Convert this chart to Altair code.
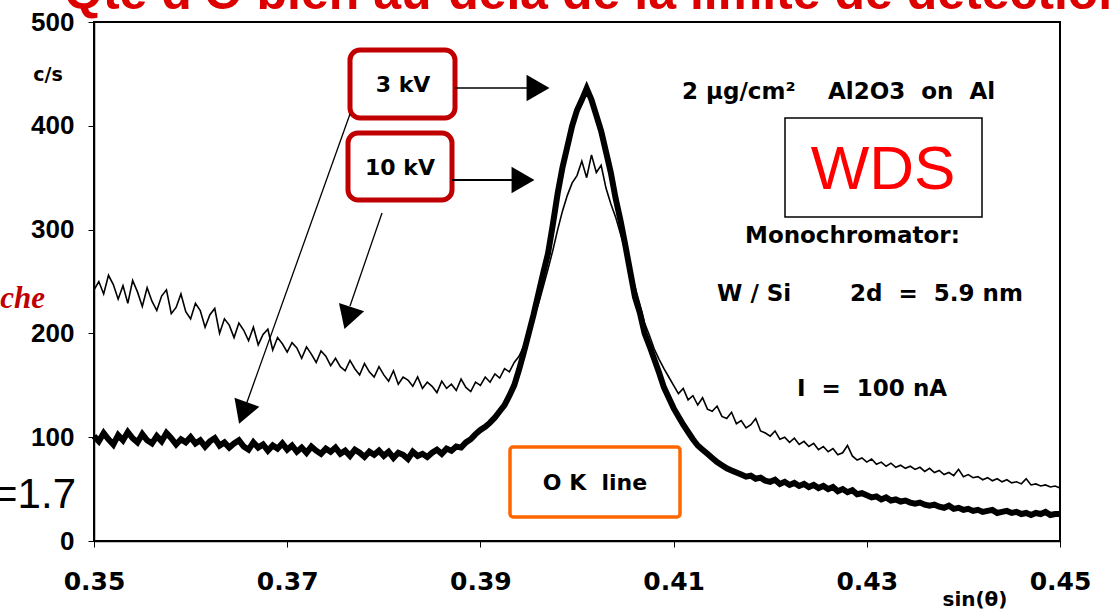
import altair as alt
import pandas as pd

# x positions: sin(theta) from 0.350 to 0.450, step 0.0005 (201 points)
x_start = 0.35
x_step = 0.0005

counts_3kV = [
    101, 96, 104, 98, 93, 102, 97, 105, 99, 95,
    103, 97, 94, 101, 96, 104, 99, 93, 98, 95,
    100, 94, 97, 91, 96, 99, 92, 95, 90, 94,
    97, 91, 88, 95, 90, 93, 87, 92, 89, 94,
    88, 92, 86, 90, 85, 91, 87, 84, 89, 86,
    90, 84, 87, 82, 88, 85, 81, 86, 83, 87,
    82, 86, 80, 85, 83, 79, 86, 82, 84, 81,
    85, 88, 84, 89, 87, 91, 90, 95, 98, 103,
    107, 110, 114, 119, 125, 131, 140, 150, 165, 182,
    200, 218, 238, 258, 277, 305, 335, 360, 380, 400,
    415, 425, 436, 425, 410, 395, 375, 355, 330, 309,
    285, 260, 235, 220, 200, 188, 175, 162, 148, 138,
    128, 120, 112, 105, 98, 92, 88, 84, 80, 76,
    73, 70, 68, 66, 64, 62, 63, 60, 61, 58,
    57, 59, 55, 57, 54, 56, 53, 55, 52, 54,
    51, 53, 50, 52, 48, 50, 47, 49, 45, 46,
    44, 42, 43, 40, 42, 39, 40, 38, 39, 37,
    36, 37, 35, 34, 35, 33, 32, 34, 31, 32,
    30, 31, 29, 30, 28, 29, 30, 27, 28, 29,
    27, 28, 26, 27, 25, 27, 26, 28, 25, 26,
    26,
]

counts_10kV = [
    242, 250, 238, 256, 247, 233, 246, 229, 251, 240,
    226, 244, 231, 222, 236, 242, 219, 225, 238, 221,
    214, 229, 222, 206, 218, 224, 200, 214, 208, 196,
    210, 203, 193, 206, 189, 199, 204, 184, 196, 190,
    182, 191, 186, 176, 187, 180, 172, 183, 178, 169,
    176, 168, 164, 174, 166, 160, 171, 163, 158, 168,
    160, 154, 164, 151, 158, 155, 149, 158, 147, 153,
    149, 143, 154, 147, 151, 145, 156, 148, 144, 153,
    150, 158, 153, 161, 157, 166, 163, 172, 178, 188,
    200, 215, 228, 245, 262, 280, 300, 318, 333, 345,
    352, 366, 350, 372, 355, 362, 340, 325, 312, 296,
    280, 262, 245, 228, 210, 198, 185, 175, 166, 158,
    150, 142, 147, 136, 140, 131, 138, 127, 125, 130,
    120, 118, 124, 113, 116, 109, 112, 118, 106, 104,
    101, 106, 98, 100, 95, 99, 93, 96, 91, 94,
    88, 91, 86, 89, 83, 85, 92, 82, 78, 80,
    76, 79, 74, 76, 72, 75, 71, 73, 70, 72,
    69, 71, 67, 70, 66, 68, 64, 66, 63, 69,
    62, 64, 61, 62, 59, 61, 58, 60, 57, 59,
    56, 57, 55, 60, 54, 55, 53, 54, 52, 53,
    51,
]

x_ticks = [0.35, 0.37, 0.39, 0.41, 0.43, 0.45]
y_ticks = [0, 100, 200, 300, 400, 500]

xs = [round(x_start + i * x_step, 4) for i in range(len(counts_3kV))]
df3 = pd.DataFrame({"sin": xs, "cps": counts_3kV})
df10 = pd.DataFrame({"sin": xs, "cps": counts_10kV})
one = pd.DataFrame({"a": [0]})

FONT = "Liberation Sans"
WIDE = "DejaVu Sans"
NB = "\u00a0"

xscale = alt.Scale(domain=[0.35, 0.45], nice=False, zero=False)
yscale = alt.Scale(domain=[0, 500], nice=False)

xaxis = alt.Axis(values=x_ticks, format=".2f", title=None, grid=False,
                 labelFont=WIDE, labelFontWeight="bold", labelFontSize=25,
                 labelColor="black", tickColor="black", tickSize=6,
                 domainColor="black", domainWidth=1.5, labelPadding=22,
                 labelFlush=False)
yaxis = alt.Axis(values=y_ticks, title=None, grid=False,
                 labelFont=FONT, labelFontWeight="bold", labelFontSize=26,
                 labelColor="black", tickColor="black", tickSize=6,
                 domainColor="black", domainWidth=1.5, labelPadding=14)

line3 = alt.Chart(df3).mark_line(color="black", strokeWidth=6).encode(
    x=alt.X("sin:Q", scale=xscale, axis=xaxis),
    y=alt.Y("cps:Q", scale=yscale, axis=yaxis),
)
line10 = alt.Chart(df10).mark_line(color="black", strokeWidth=1.6).encode(
    x=alt.X("sin:Q", scale=xscale),
    y=alt.Y("cps:Q", scale=yscale),
)


def txt(text, x, y, size, color="black", weight="bold", align="center",
        baseline="middle", font=WIDE, style="normal"):
    return alt.Chart(one).mark_text(
        text=text, fontSize=size, color=color, fontWeight=weight, align=align,
        baseline=baseline, font=font, fontStyle=style,
    ).encode(x=alt.value(x), y=alt.value(y))


def box(x1, x2, y1, y2, color, width, radius=0, fill="white"):
    return alt.Chart(one).mark_rect(
        stroke=color, strokeWidth=width, cornerRadius=radius, fill=fill,
    ).encode(x=alt.value(x1), x2=alt.value(x2), y=alt.value(y1), y2=alt.value(y2))


def rule(x1, y1, x2, y2, width=1.3):
    return alt.Chart(one).mark_rule(color="black", strokeWidth=width).encode(
        x=alt.value(x1), y=alt.value(y1), x2=alt.value(x2), y2=alt.value(y2))


def head(x, y, angle):
    return alt.Chart(one).mark_point(
        shape="triangle-up", filled=True, size=700, color="black", opacity=1,
        angle=angle,
    ).encode(x=alt.value(x), y=alt.value(y))


layers = [
    line10, line3,
    # top cut title
    txt("Qté d'O bien au-delà de la limite de détection", -30, -13, 50,
        color="#DD0000", weight="bold", align="left", baseline="alphabetic",
        font=FONT),
    txt("c/s", -46, 53, 19),
    txt("sin(θ)", 881, 578, 20),
    txt("che", -49, 286, 31, color="#C00000", weight="bold", align="right",
        baseline="alphabetic", font="Liberation Serif", style="italic"),
    txt("=1.7", -18, 486, 42, weight="normal", align="right",
        baseline="alphabetic", font=FONT),
    # kV boxes
    box(256, 361, 28, 96, "#C00000", 5, 10),
    box(254, 358, 111, 178, "#C00000", 5, 10),
    txt("3 kV", 309, 63, 22),
    txt("10 kV", 306, 146, 22),
    rule(361, 66, 434, 66),
    head(444, 66, 90),
    rule(358, 158, 419, 158, 2),
    head(429, 158, 90),
    rule(256, 92, 152, 383),
    head(149, 391, 200),
    rule(288, 191, 256, 284),
    head(254, 296, 198),
    # right annotations
    txt("2 μg/cm²", 588, 70, 23, align="left"),
    txt("Al2O3" + NB * 2 + "on" + NB * 2 + "Al", 734, 70, 23, align="left"),
    box(691, 888, 96, 195, "black", 1.5, 0),
    txt("WDS", 789, 148, 62, color="#FF0000", weight="normal", font=FONT),
    txt("Monochromator:", 651, 214, 23, align="left"),
    txt("W / Si", 623, 272, 23, align="left"),
    txt("2d" + NB * 2 + "=" + NB * 2 + "5.9 nm", 756, 272, 23, align="left"),
    txt("I" + NB * 2 + "=" + NB * 2 + "100 nA", 703, 367, 23, align="left"),
    box(416, 586, 425, 495, "#FF6600", 3.5, 3),
    txt("O K" + NB * 2 + "line", 501, 461, 22),
]

chart = alt.layer(*layers).properties(
    width=966, height=519,
    autosize=alt.AutoSizeParams(type="none"),
    padding={"left": 94, "top": 22, "right": 49, "bottom": 74},
    background="white",
).configure_view(stroke="black", strokeWidth=2)

chart.save("out.html", embed_options={"renderer": "svg", "actions": False})
